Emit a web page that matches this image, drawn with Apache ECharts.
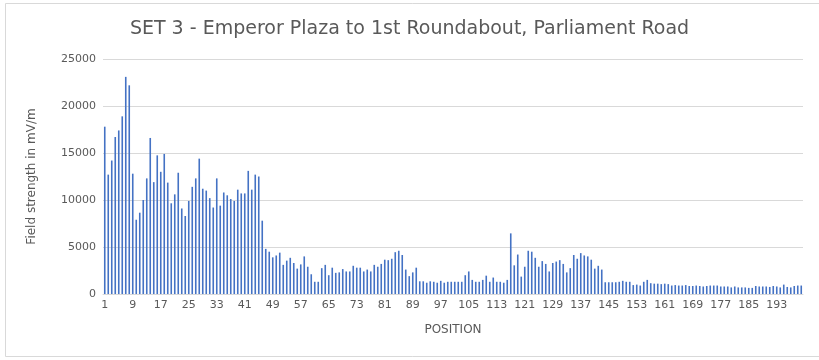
<!DOCTYPE html>
<html>
<head>
<meta charset="utf-8">
<script src="https://cdn.jsdelivr.net/npm/echarts@6/dist/echarts.min.js"></script>
<style>html,body{margin:0;padding:0;background:#fff}#c{width:819px;height:360px}</style>
</head>
<body>
<div id="c"></div>
<script>
const titleText = "SET 3 - Emperor Plaza to 1st Roundabout, Parliament Road";
const yAxisName = "Field strength in mV/m";
const xAxisName = "POSITION";
const positions = [];
for (let i = 1; i <= 200; i++) positions.push(String(i));
const values1to50 = [17800,12700,14200,16700,17400,18900,23100,22200,12800,7900,
  8650,10000,12300,16600,11900,14750,13000,14900,11850,9650,
  10600,12900,9100,8300,9900,11400,12300,14400,11200,11000,
  10200,9200,12300,9400,10800,10500,10100,9900,11100,10700,
  10700,13100,11100,12700,12500,7800,4800,4500,3900,4100];
const values51to100 = [4400,3100,3550,3850,3300,2700,3150,4000,2900,2100,
  1300,1300,2750,3100,2000,2800,2250,2300,2650,2400,
  2400,3000,2800,2800,2400,2600,2400,3100,2900,3200,
  3650,3600,3750,4450,4600,4150,2600,1900,2300,2800,
  1350,1350,1200,1350,1300,1200,1400,1200,1300,1300];
const values101to150 = [1300,1300,1300,2000,2400,1500,1300,1300,1500,1950,
  1300,1750,1300,1300,1200,1500,6450,3050,4200,1850,
  2900,4600,4500,3850,2900,3500,3200,2400,3300,3450,
  3600,3200,2300,2750,4150,3750,4350,4100,4000,3650,
  2700,3000,2600,1250,1250,1250,1250,1300,1400,1300];
const values151to200 = [1300,950,1000,900,1300,1500,1150,1100,1100,1050,
  1100,1050,900,950,900,900,950,850,850,900,
  850,800,850,900,900,900,800,800,800,700,
  800,700,700,700,650,650,850,800,800,800,
  750,850,800,700,1000,750,700,850,900,900];
const fieldStrength = [].concat(values1to50, values51to100, values101to150, values151to200);
const yTicks = [0, 5000, 10000, 15000, 20000, 25000];

const chart = echarts.init(document.getElementById('c'), null, {renderer: 'canvas'});
const txt = '#595959';
const font = 'DejaVu Sans';
chart.setOption({
  animation: false,
  backgroundColor: '#ffffff',
  graphic: [{
    type: 'rect', shape: {x: 5.5, y: 3.5, width: 830, height: 353},
    style: {fill: 'none', stroke: '#d9d9d9', lineWidth: 1}, silent: true
  }],
  title: {
    text: titleText, left: 'center', top: 15,
    textStyle: {fontFamily: font, fontSize: 19, fontWeight: 'normal', color: txt}
  },
  grid: {left: 103, right: 16, top: 59, bottom: 66, containLabel: false},
  xAxis: {
    type: 'category', data: positions, boundaryGap: true,
    name: xAxisName, nameLocation: 'middle', nameGap: 30,
    nameTextStyle: {fontFamily: font, fontSize: 12, color: txt},
    axisLine: {show: true, lineStyle: {color: '#d9d9d9', width: 1}},
    axisTick: {show: false},
    axisLabel: {interval: 7, fontFamily: font, fontSize: 11, color: txt, margin: 6}
  },
  yAxis: {
    type: 'value', min: yTicks[0], max: yTicks[yTicks.length - 1], interval: 5000,
    name: yAxisName, nameLocation: 'middle', nameGap: 65, nameRotate: 90,
    nameTextStyle: {fontFamily: font, fontSize: 12, color: txt},
    axisLine: {show: false}, axisTick: {show: false},
    axisLabel: {fontFamily: font, fontSize: 11, color: txt, margin: 7,
      formatter: function (v) { return String(v); }},
    splitLine: {lineStyle: {color: '#d9d9d9', width: 1}}
  },
  series: [{
    type: 'bar', data: fieldStrength, barWidth: 1.6,
    itemStyle: {color: '#4472C4'}
  }]
});
</script>
</body>
</html>
